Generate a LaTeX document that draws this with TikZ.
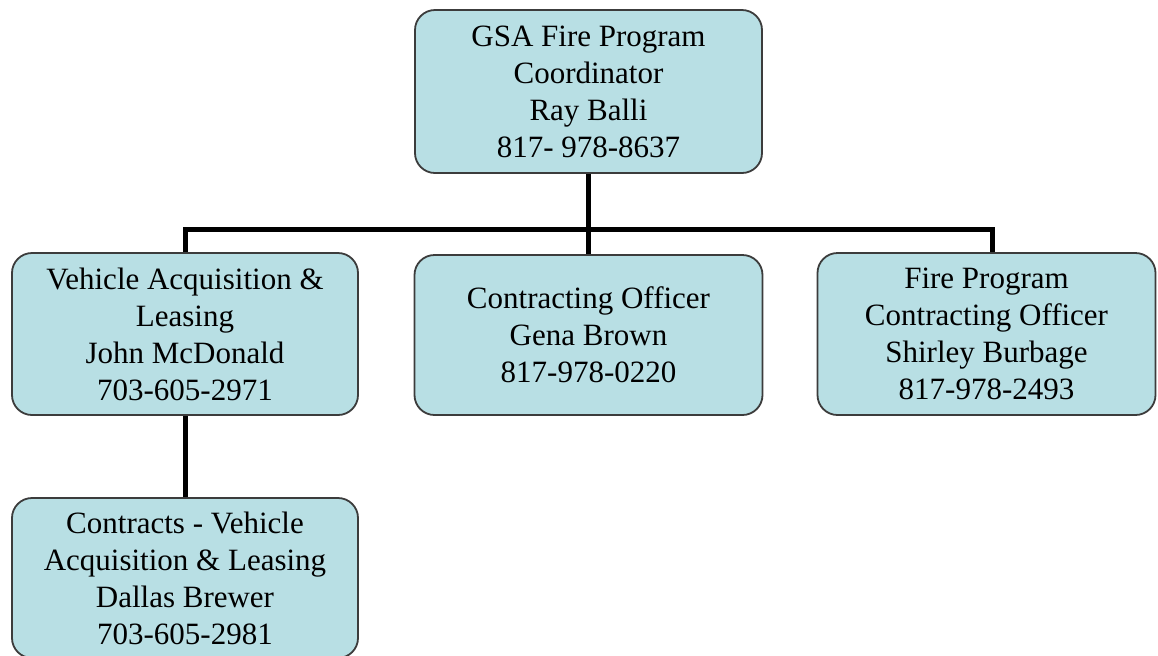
\documentclass[tikz,border=0pt]{standalone}
\usepackage{fontspec}
\setmainfont{Liberation Serif}
\definecolor{boxblue}{RGB}{184,223,228}
\definecolor{boxedge}{RGB}{60,60,60}

\begin{document}
\begin{tikzpicture}[x=0.5pt,y=0.5pt,
  post/.style={rectangle,rounded corners=10pt,draw=boxedge,line width=0.9pt,fill=boxblue,
    align=center,inner sep=0pt,font=\fontsize{15.5}{18.5}\selectfont},
  link/.style={line width=2.5pt}]

\useasboundingbox[fill=white] (0,0) rectangle (1158,-655);

\draw (588.5,-91.5) node[post,minimum width=173.5pt,minimum height=81.5pt] (coord)
        {GSA Fire Program\\Coordinator\\Ray Balli\\817- 978-8637}
      (185,-334) node[post,minimum width=173pt,minimum height=81pt] (vehicle)
        {Vehicle Acquisition \&\\Leasing\\John McDonald\\703-605-2971}
      (588.5,-335) node[post,minimum width=174pt,minimum height=80pt] (officer)
        {Contracting Officer\\Gena Brown\\817-978-0220}
      (986.5,-334) node[post,minimum width=169pt,minimum height=81pt] (fire)
        {Fire Program\\Contracting Officer\\Shirley Burbage\\817-978-2493}
      (185,-578) node[post,minimum width=173pt,minimum height=80pt] (contracts)
        {Contracts - Vehicle\\Acquisition \& Leasing\\Dallas Brewer\\703-605-2981};

% connectors
\coordinate (bar) at (588.5,-229);
\coordinate (firetop) at ([xshift=3pt]fire.north);
\draw[link] (coord.south) -- (officer.north);
\draw[link] (vehicle.north) |- (bar) -| (firetop);
\draw[link] (vehicle.south) -- (contracts.north);
\end{tikzpicture}
\end{document}
